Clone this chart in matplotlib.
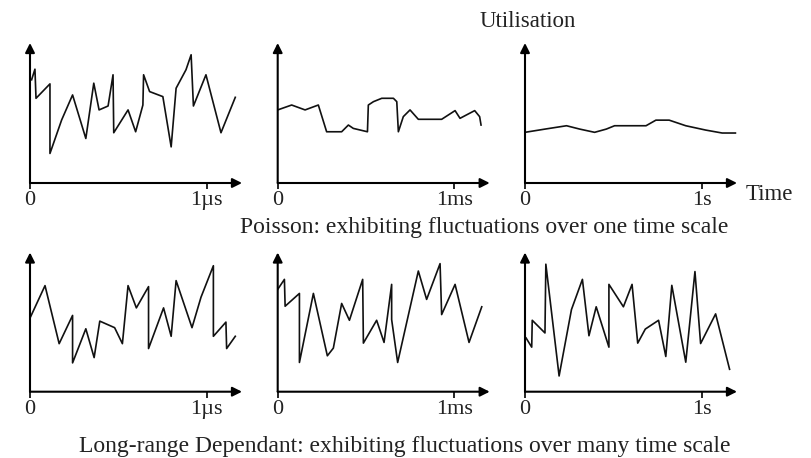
import matplotlib
matplotlib.use("Agg")
import matplotlib.pyplot as plt

plt.rcParams['font.family'] = ['Liberation Serif', 'DejaVu Serif']

# tick unit for each column
units = ['1\u00b5s', '1ms', '1s']

# Poisson traffic (top row)
poisson_us_x = [0.009, 0.028, 0.034, 0.113, 0.113, 0.179, 0.241, 0.316, 0.361, 0.391, 0.442, 0.470, 0.474,
                0.555, 0.598, 0.639, 0.643, 0.677, 0.752, 0.799, 0.827, 0.883, 0.912, 0.925, 0.996, 1.081, 1.162]
poisson_us_y = [0.737, 0.813, 0.605, 0.708, 0.211, 0.450, 0.629, 0.318, 0.713, 0.522, 0.550, 0.773, 0.359,
                0.522, 0.366, 0.557, 0.773, 0.653, 0.617, 0.258, 0.677, 0.809, 0.916, 0.550, 0.773, 0.359, 0.612]

poisson_ms_x = [0.000, 0.079, 0.155, 0.230, 0.277, 0.362, 0.400, 0.428, 0.508, 0.513, 0.542, 0.589,
                0.655, 0.674, 0.683, 0.711, 0.749, 0.796, 0.928, 1.004, 1.032, 1.115, 1.143, 1.151]
poisson_ms_y = [0.522, 0.557, 0.522, 0.557, 0.366, 0.366, 0.414, 0.390, 0.366, 0.557, 0.581, 0.605,
                0.605, 0.581, 0.366, 0.474, 0.522, 0.455, 0.455, 0.517, 0.462, 0.517, 0.474, 0.414]

poisson_s_x = [0.000, 0.113, 0.235, 0.310, 0.394, 0.460, 0.507, 0.685, 0.741, 0.816, 0.910, 1.023, 1.116, 1.191]
poisson_s_y = [0.362, 0.385, 0.409, 0.385, 0.362, 0.385, 0.409, 0.409, 0.449, 0.449, 0.409, 0.378, 0.357, 0.357]

# long-range dependent traffic (bottom row)
lrd_us_x = [0.004, 0.085, 0.165, 0.241, 0.241, 0.316, 0.363, 0.395, 0.479, 0.523, 0.555, 0.602,
            0.671, 0.671, 0.756, 0.799, 0.827, 0.917, 0.968, 1.038, 1.038, 1.109, 1.113, 1.162]
lrd_us_y = [0.540, 0.762, 0.345, 0.548, 0.207, 0.452, 0.245, 0.507, 0.460, 0.345, 0.762, 0.602,
            0.755, 0.310, 0.602, 0.398, 0.798, 0.460, 0.679, 0.905, 0.398, 0.500, 0.310, 0.398]

lrd_ms_x = [0.000, 0.038, 0.042, 0.123, 0.123, 0.202, 0.281, 0.315, 0.362, 0.406, 0.481, 0.485,
            0.560, 0.602, 0.645, 0.645, 0.679, 0.796, 0.843, 0.919, 0.928, 1.004, 1.083, 1.155]
lrd_ms_y = [0.735, 0.807, 0.614, 0.706, 0.210, 0.706, 0.258, 0.313, 0.634, 0.513, 0.807, 0.349,
            0.513, 0.354, 0.771, 0.518, 0.210, 0.867, 0.663, 0.920, 0.554, 0.771, 0.354, 0.610]

lrd_s_x = [0.006, 0.038, 0.041, 0.113, 0.118, 0.193, 0.263, 0.325, 0.362, 0.403, 0.475, 0.475,
           0.557, 0.606, 0.638, 0.681, 0.756, 0.797, 0.831, 0.910, 0.962, 0.994, 1.079, 1.158]
lrd_s_y = [0.386, 0.320, 0.513, 0.422, 0.916, 0.113, 0.590, 0.807, 0.402, 0.610, 0.320, 0.771,
           0.610, 0.771, 0.349, 0.450, 0.513, 0.253, 0.764, 0.212, 0.863, 0.346, 0.559, 0.161]

W, H = 812, 458
fig = plt.figure(figsize=(W / 100, H / 100), dpi=100)
TXT = '#222222'


def panel(left, base, top, xs, ys, unit):
    # left/base/top in pixels, y measured from the top of the image
    ax = fig.add_axes([left / W, 1 - base / H, 212 / W, (base - top) / H])
    ax.plot(xs, ys, color='#111111', lw=1.2)
    ax.set_xlim(0, 1.2)
    ax.set_ylim(0, 1)
    for s in ax.spines.values():
        s.set_visible(False)
    arrow = dict(arrowstyle='-|>', color='k', lw=1.5, mutation_scale=14, shrinkA=0, shrinkB=0)
    ax.annotate('', xy=(1, 0), xytext=(0, 0), xycoords='axes fraction', arrowprops=arrow)
    ax.annotate('', xy=(0, 1), xytext=(0, 0), xycoords='axes fraction', arrowprops=arrow)
    ax.set_xticks([0, 1])
    ax.set_xticklabels(['0', unit])
    ax.set_yticks([])
    ax.tick_params(axis='x', direction='out', length=4, width=1.2, pad=2, labelsize=16, labelcolor=TXT)
    ax.patch.set_alpha(0)
    return ax


lefts = [30, 277.7, 525]
top_row = [(poisson_us_x, poisson_us_y), (poisson_ms_x, poisson_ms_y), (poisson_s_x, poisson_s_y)]
bottom_row = [(lrd_us_x, lrd_us_y), (lrd_ms_x, lrd_ms_y), (lrd_s_x, lrd_s_y)]

for i in range(3):
    panel(lefts[i], 183, 43, top_row[i][0], top_row[i][1], units[i])
    panel(lefts[i], 391.7, 252.5, bottom_row[i][0], bottom_row[i][1], units[i])

fig.text(528 / W, 1 - 27 / H, 'Utilisation', ha='center', va='baseline', fontsize=16.5, color=TXT)
fig.text(746 / W, 1 - 200 / H, 'Time', ha='left', va='baseline', fontsize=16.5, color=TXT)
fig.text(484 / W, 1 - 233 / H, 'Poisson: exhibiting fluctuations over one time scale',
         ha='center', va='baseline', fontsize=17, color=TXT)
fig.text(405 / W, 1 - 452 / H, 'Long-range Dependant: exhibiting fluctuations over many time scale',
         ha='center', va='baseline', fontsize=17, color=TXT)

fig.savefig('out.png', dpi=100, facecolor='white')
